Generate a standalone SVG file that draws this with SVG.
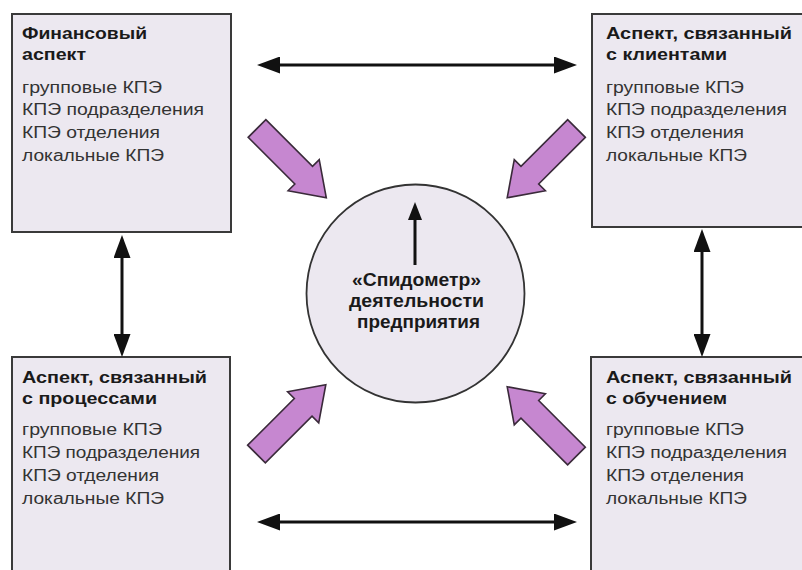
<svg xmlns="http://www.w3.org/2000/svg" width="802" height="570" viewBox="0 0 802 570">
<style>
.box{fill:#ece8f0;stroke:#3a3a3a;stroke-width:2}
.hd{font-family:"Liberation Sans",Arial,sans-serif;font-weight:bold;font-size:16px;fill:#1a1a1a}
.it{font-family:"Liberation Sans",Arial,sans-serif;font-size:16px;fill:#333}
.ct{font-family:"Liberation Sans",Arial,sans-serif;font-weight:bold;font-size:18px;fill:#1a1a1a}
.ln{stroke:#111;stroke-width:3;fill:none}
.blk{fill:#c687d0;stroke:#3a2a3a;stroke-width:1.6;stroke-linejoin:miter}
</style>
<defs>
<marker id="hd" viewBox="0 0 23 17" refX="17" refY="8.5" markerWidth="23" markerHeight="17" markerUnits="userSpaceOnUse" orient="auto-start-reverse">
<path d="M0,0 L23,8.5 L0,17 Z" fill="#111"/>
</marker>
<marker id="hs" viewBox="0 0 18 14" refX="13" refY="7" markerWidth="18" markerHeight="14" markerUnits="userSpaceOnUse" orient="auto">
<path d="M0,0 L18,7 L0,14 Z" fill="#111"/>
</marker>
<path id="barrow" d="M0,-12.5 L66,-12.5 L66,-22 L98,0 L66,22 L66,12.5 L0,12.5 Z"/>
</defs>
<rect width="802" height="570" fill="#fff"/>

<g id="financial">
<rect class="box" x="12" y="14" width="219" height="218"/>
<text class="hd" x="22" y="39" textLength="125" lengthAdjust="spacingAndGlyphs">Финансовый</text>
<text class="hd" x="22" y="60" textLength="64" lengthAdjust="spacingAndGlyphs">аспект</text>
<text class="it" x="22" y="93" textLength="140" lengthAdjust="spacingAndGlyphs">групповые КПЭ</text>
<text class="it" x="22" y="115" textLength="182" lengthAdjust="spacingAndGlyphs">КПЭ подразделения</text>
<text class="it" x="22" y="138" textLength="138" lengthAdjust="spacingAndGlyphs">КПЭ отделения</text>
<text class="it" x="22" y="161" textLength="142" lengthAdjust="spacingAndGlyphs">локальные КПЭ</text>
</g>

<g id="clients">
<rect class="box" x="592" y="14" width="215" height="213"/>
<text class="hd" x="606" y="39" textLength="186" lengthAdjust="spacingAndGlyphs">Аспект, связанный</text>
<text class="hd" x="606" y="60" textLength="121" lengthAdjust="spacingAndGlyphs">с клиентами</text>
<text class="it" x="606" y="93" textLength="138" lengthAdjust="spacingAndGlyphs">групповые КПЭ</text>
<text class="it" x="606" y="115" textLength="181" lengthAdjust="spacingAndGlyphs">КПЭ подразделения</text>
<text class="it" x="606" y="138" textLength="138" lengthAdjust="spacingAndGlyphs">КПЭ отделения</text>
<text class="it" x="606" y="161" textLength="141" lengthAdjust="spacingAndGlyphs">локальные КПЭ</text>
</g>

<g id="processes">
<rect class="box" x="12" y="357" width="218" height="220"/>
<text class="hd" x="22" y="383" textLength="185" lengthAdjust="spacingAndGlyphs">Аспект, связанный</text>
<text class="hd" x="22" y="404" textLength="135" lengthAdjust="spacingAndGlyphs">с процессами</text>
<text class="it" x="22" y="435" textLength="140" lengthAdjust="spacingAndGlyphs">групповые КПЭ</text>
<text class="it" x="22" y="458" textLength="178" lengthAdjust="spacingAndGlyphs">КПЭ подразделения</text>
<text class="it" x="22" y="481" textLength="137" lengthAdjust="spacingAndGlyphs">КПЭ отделения</text>
<text class="it" x="22" y="504" textLength="142" lengthAdjust="spacingAndGlyphs">локальные КПЭ</text>
</g>

<g id="learning">
<rect class="box" x="591" y="357" width="216" height="220"/>
<text class="hd" x="606" y="383" textLength="186" lengthAdjust="spacingAndGlyphs">Аспект, связанный</text>
<text class="hd" x="606" y="404" textLength="121" lengthAdjust="spacingAndGlyphs">с обучением</text>
<text class="it" x="606" y="435" textLength="138" lengthAdjust="spacingAndGlyphs">групповые КПЭ</text>
<text class="it" x="606" y="458" textLength="181" lengthAdjust="spacingAndGlyphs">КПЭ подразделения</text>
<text class="it" x="606" y="481" textLength="138" lengthAdjust="spacingAndGlyphs">КПЭ отделения</text>
<text class="it" x="606" y="504" textLength="141" lengthAdjust="spacingAndGlyphs">локальные КПЭ</text>
</g>

<g id="speedometer">
<circle cx="415.5" cy="293.5" r="109" fill="#ece8f0" stroke="#333" stroke-width="1.8"/>
<line class="ln" x1="415" y1="265" x2="415" y2="207" marker-end="url(#hs)"/>
<text class="ct" x="352" y="286" textLength="129" lengthAdjust="spacingAndGlyphs">«Спидометр»</text>
<text class="ct" x="349" y="307" textLength="135" lengthAdjust="spacingAndGlyphs">деятельности</text>
<text class="ct" x="357" y="328" textLength="123" lengthAdjust="spacingAndGlyphs">предприятия</text>
</g>

<g id="connectors">
<line class="ln" x1="263" y1="65" x2="571" y2="65" marker-start="url(#hd)" marker-end="url(#hd)"/>
<line class="ln" x1="263" y1="522" x2="571" y2="522" marker-start="url(#hd)" marker-end="url(#hd)"/>
<line class="ln" x1="122" y1="241" x2="122" y2="351" marker-start="url(#hd)" marker-end="url(#hd)"/>
<line class="ln" x1="702" y1="235" x2="702" y2="351" marker-start="url(#hd)" marker-end="url(#hd)"/>
<use href="#barrow" class="blk" transform="translate(257,128.5) rotate(45)"/>
<use href="#barrow" class="blk" transform="translate(576.5,128.5) rotate(135)"/>
<use href="#barrow" class="blk" transform="translate(256.5,454) rotate(-45)"/>
<use href="#barrow" class="blk" transform="translate(576.5,456) rotate(-135)"/>
</g>
</svg>
